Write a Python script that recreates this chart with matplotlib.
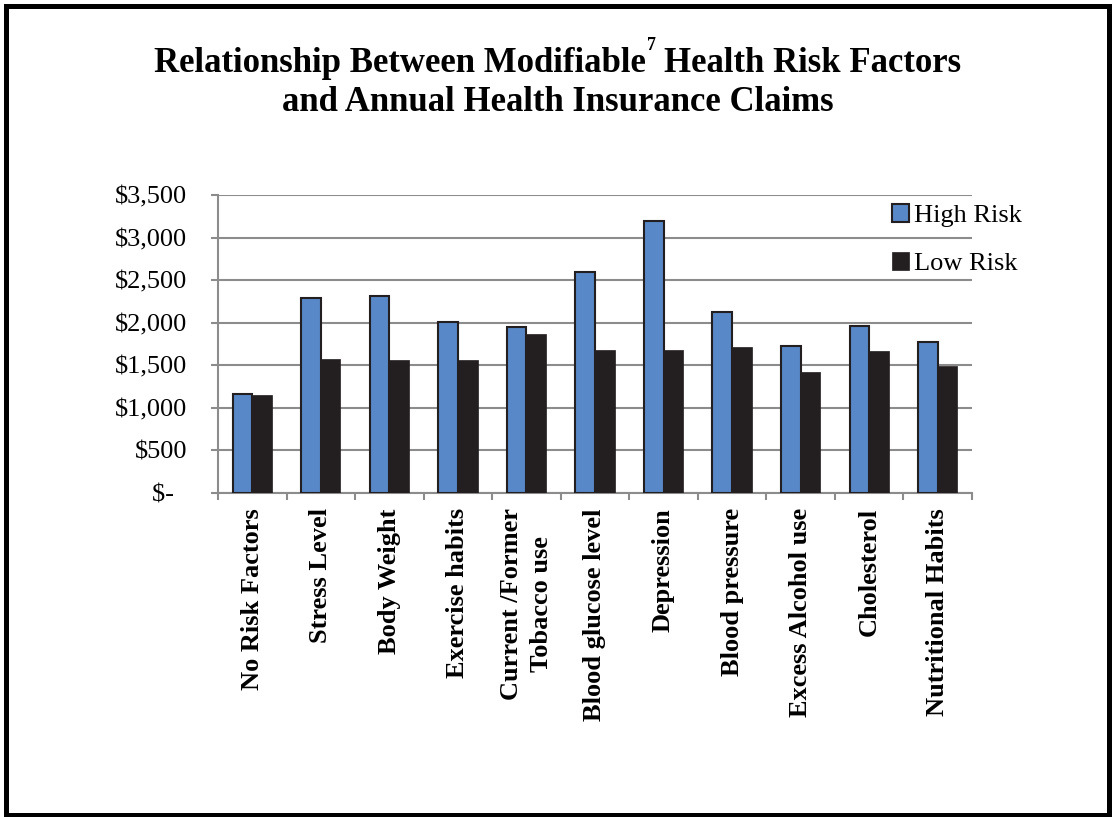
import matplotlib
matplotlib.use("Agg")
import matplotlib.pyplot as plt
import numpy as np
from matplotlib.patches import Rectangle
from matplotlib.ticker import FuncFormatter

# Annual claims per employee by risk factor
categories = ["No Risk Factors", "Stress Level", "Body Weight", "Exercise habits",
              "Current /Former\nTobacco use", "Blood glucose level", "Depression",
              "Blood pressure", "Excess Alcohol use", "Cholesterol", "Nutritional Habits"]
high_risk = [1165, 2290, 2315, 2010, 1950, 2600, 3190, 2120, 1730, 1960, 1770]
low_risk = [1155, 1570, 1565, 1560, 1865, 1680, 1675, 1710, 1425, 1670, 1495]
series_names = ["High Risk", "Low Risk"]
y_ticks = [0, 500, 1000, 1500, 2000, 2500, 3000, 3500]

BLUE = "#5888c7"
DARK = "#231f20"
GRID = "#8c8c8c"

plt.rcParams['font.family'] = ['Liberation Serif', 'DejaVu Serif']

W, H = 1112, 817
fig = plt.figure(figsize=(W / 100, H / 100), dpi=100)

ax = fig.add_axes([218 / W, 1 - 493 / H, (972 - 218) / W, (493 - 195) / H])
x = np.arange(len(categories))
bw = 0.287
ax.bar(x - bw / 2, high_risk, bw, color=BLUE, edgecolor=DARK, linewidth=1.5,
       label=series_names[0], zorder=3)
ax.bar(x + bw / 2, low_risk, bw, color=DARK, edgecolor=DARK, linewidth=0.5,
       label=series_names[1], zorder=3)

ax.set_xlim(-0.5, len(categories) - 0.5)
ax.set_ylim(0, 3500)
ax.set_yticks(y_ticks)
ax.yaxis.set_major_formatter(FuncFormatter(lambda v, p: "$-  " if v == 0 else f"${v:,.0f}"))
ax.grid(axis='y', color=GRID, linewidth=1.5, zorder=0)
ax.set_axisbelow(True)
for s in ['top', 'right']:
    ax.spines[s].set_visible(False)
for s in ['left', 'bottom']:
    ax.spines[s].set_color(GRID)
    ax.spines[s].set_linewidth(1.5)

ax.tick_params(axis='y', length=5, width=1.5, color=GRID, pad=17, labelsize=19)
ax.set_xticks(x)
ax.set_xticklabels(categories, rotation=90, fontweight='bold', fontsize=19,
                   va='top', ha='center', multialignment='center', linespacing=1.4)
ax.tick_params(axis='x', which='major', length=0, pad=11)
ax.set_xticks(np.arange(-0.5, len(categories), 1), minor=True)
ax.tick_params(axis='x', which='minor', length=5, width=1.5, color=GRID)

leg = ax.legend(loc='upper left', bbox_to_anchor=(892 / W, 1 - 204 / H),
                bbox_transform=fig.transFigure, frameon=False, fontsize=19,
                handlelength=0.65, handleheight=0.65, handletextpad=0.2,
                labelspacing=0.95, borderpad=0, borderaxespad=0)

# Title, with a raised footnote marker after "Modifiable"
title_size = 25
renderer = fig.canvas.get_renderer()
base1 = 1 - 71.7 / H
base2 = 1 - 111 / H
cx = 557.5 / W
t1 = fig.text(0, base1, "Relationship Between Modifiable", fontsize=title_size,
              fontweight='bold', va='baseline', ha='left')
t_sup = fig.text(0, 1 - 50.5 / H, "7", fontsize=13, fontweight='bold',
                 va='baseline', ha='left')
t3 = fig.text(0, base1, "Health Risk Factors", fontsize=title_size,
              fontweight='bold', va='baseline', ha='left')
w1 = t1.get_window_extent(renderer).width
w2 = t_sup.get_window_extent(renderer).width
w3 = t3.get_window_extent(renderer).width
space = 0.25 * title_size * 100 / 72
total = w1 + w2 + space + w3
x0 = cx * W - total / 2
t1.set_x(x0 / W)
t_sup.set_x((x0 + w1 + 1) / W)
t3.set_x((x0 + w1 + w2 + space) / W)
fig.text(cx, base2, "and Annual Health Insurance Claims", fontsize=title_size,
         fontweight='bold', va='baseline', ha='center')

# Outer frame
fig.patches.append(Rectangle((5.5 / W, 2.5 / H), (1108.5 - 5.5) / W, (811.5 - 2.5) / H,
                             transform=fig.transFigure, fill=False,
                             edgecolor='black', linewidth=3.6))

fig.savefig("out.png", dpi=100)
